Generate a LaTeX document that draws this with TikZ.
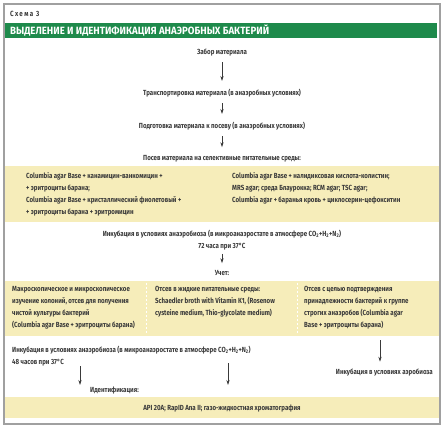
\documentclass[tikz,border=0pt]{standalone}
\usepackage{fontspec}
\setmainfont{Fira Sans}[FakeStretch=0.83]
\newfontfamily\ttlfont{Fira Sans}[FakeStretch=0.92]
\usetikzlibrary{arrows.meta}
\definecolor{grn}{HTML}{1E8A4B}
\definecolor{ylw}{HTML}{F6EDBA}
\definecolor{txtc}{HTML}{3A3A3A}
\definecolor{frm}{HTML}{A0A0A0}
\newcommand{\fs}{\fontsize{7.4}{12}\selectfont\bfseries}
\tikzset{
  txt/.style={font=\fs, text=txtc, inner sep=0pt},
  ctxt/.style={txt, anchor=base},
  ltxt/.style={txt, anchor=base west},
  arr/.style={-{Stealth[length=5pt,width=3.2pt]}, draw=txtc, line width=0.6pt},
  divl/.style={draw=white, line width=0.8pt, dash pattern=on 2pt off 2pt},
}
\begin{document}
\begin{tikzpicture}[x=1pt,y=-1pt]
\useasboundingbox (0,0) rectangle (444,428);
\fill[white] (0,0) rectangle (444,428);
% bands
\fill[grn] (4,23) rectangle (437,38);
\fill[ylw] (5,166) rectangle (439,222);
\fill[ylw] (5,281) rectangle (439,336);
\fill[ylw] (5,397) rectangle (439,418);
\draw[divl] (146,283) -- (146,334);
\draw[divl] (297,283) -- (297,334);
% frame
\draw[frm, line width=1.2pt] (4,4) rectangle (440,424);
% header
\node[ltxt, font=\fontsize{7.5}{8}\selectfont\bfseries\addfontfeature{LetterSpace=18}] (sch) at (10,16.5) {Схема 3};
\node[ltxt, text=white, font=\ttlfont\fontsize{10.5}{11}\selectfont\bfseries] (ttl) at (10,34.5) {ВЫДЕЛЕНИЕ И ИДЕНТИФИКАЦИЯ АНАЭРОБНЫХ БАКТЕРИЙ};
% main chain
\node[ctxt] (n1) at (222,54.5) {Забор материала};
\node[ctxt] (n2) at (222,95.5) {Транспортировка материала (в анаэробных условиях)};
\node[ctxt] (n3) at (222,128.5) {Подготовка материала к посеву (в анаэробных условиях)};
\node[ctxt] (n4) at (222,160.5) {Посев материала на селективные питательные среды:};
% band 1
\node[ltxt, align=left, anchor=north west] (m1) at (26,172.5) {Columbia agar Base + канамицин-ванкомицин +\\+ эритроциты барана;\\Columbia agar Base + кристаллический фиолетовый +\\+ эритроциты барана + эритромицин};
\node[ltxt, align=left, anchor=north west] (m2) at (232,172.5) {Columbia agar Base + налидиксовая кислота-колистин;\\MRS agar; среда Блаурокка; RCM agar; TSC agar;\\Columbia agar + баранья кровь + циклосерин-цефокситин};
\node[ctxt, align=center, anchor=north] (n5) at (222,229.5) {Инкубация в условиях анаэробиоза (в микроанаэростате в атмосфере CO\textsubscript{2}+H\textsubscript{2}+N\textsubscript{2})\\72 часа при 37°C};
\node[ctxt] (n6) at (222,275.5) {Учет:};
% band 2
\node[ltxt, align=left, anchor=north west] (c1) at (12,286.5) {Макроскопическое и микроскопическое\\изучение колоний, отсев для получения\\чистой культуры бактерий\\(Columbia agar Base + эритроциты барана)};
\node[ltxt, align=left, anchor=north west] (c2) at (155,286.5) {Отсев в жидкие питательные среды:\\Schaedler broth with Vitamin K1, (Rosenow\\cysteine medium, Thio-glycolate medium)};
\node[ltxt, align=left, anchor=north west] (c3) at (304,286.5) {Отсев с целью подтверждения\\принадлежности бактерий к группе\\строгих анаэробов (Columbia agar\\Base + эритроциты барана)};
% below
\node[ltxt, align=left, anchor=north west] (n7) at (12,345.5) {Инкубация в условиях анаэробиоза (в микроанаэростате в атмосфере CO\textsubscript{2}+H\textsubscript{2}+N\textsubscript{2})\\48 часов при 37°C};
\node[txt, anchor=base east] (aer) at (433,374.5) {Инкубация в условиях аэробиоза};
\node[ltxt] (idt) at (90,392.5) {Идентификация:};
\node[ctxt] (api) at (222,410.5) {API 20A; RapID Ana II; газо-жидкостная хроматография};
% arrows
\draw[arr, shorten <=6pt, shorten >=8pt] (n1) -- (n2);
\draw[arr, shorten <=6pt, shorten >=8pt] (n2) -- (n3);
\draw[arr, shorten <=6pt, shorten >=8pt] (n3) -- (n4);
\draw[arr, shorten <=4pt, shorten >=7pt] (n5) -- (n6);
\coordinate (a3s) at (380,340);
\draw[arr, shorten >=7pt] (a3s) -- (a3s |- aer.north);
\coordinate (a1s) at (80,366);
\coordinate (a1e) at (80,385);
\draw[arr] (a1s) -- (a1e);
\coordinate (a2s) at (228,363);
\coordinate (a2e) at (228,385);
\draw[arr] (a2s) -- (a2e);
\end{tikzpicture}
\end{document}
